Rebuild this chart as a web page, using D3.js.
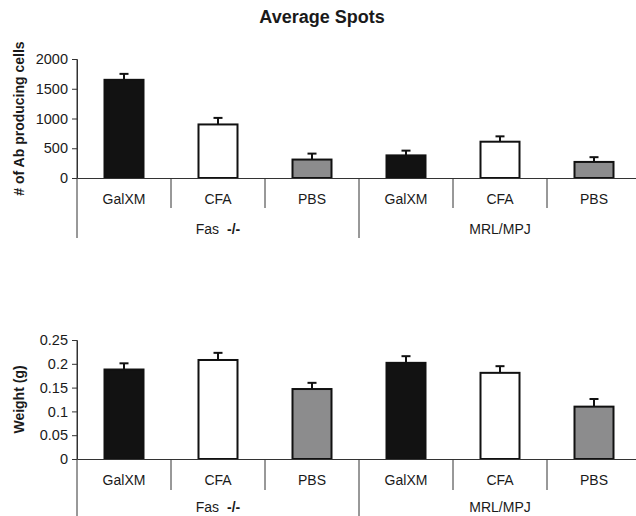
<!DOCTYPE html>
<html>
<head>
<meta charset="utf-8">
<script src="https://cdn.jsdelivr.net/npm/d3@7"></script>
<style>
  body { margin: 0; background: #fff; }
  svg { display: block; font-family: "Liberation Sans", Arial, sans-serif; }
</style>
</head>
<body>
<div id="wrapper"></div>
<script>
// data
const treatments = ["GalXM", "CFA", "PBS", "GalXM", "CFA", "PBS"]
const strains = ["Fas", "MRL/MPJ"]
const spots = [1650, 900, 310, 380, 610, 270]
const spotsErr = [100, 110, 100, 80, 90, 80]
const spotsTicks = [0, 500, 1000, 1500, 2000]
const weight = [0.188, 0.208, 0.147, 0.202, 0.181, 0.110]
const weightErr = [0.013, 0.015, 0.013, 0.014, 0.014, 0.016]
const weightTicks = [0, 0.05, 0.1, 0.15, 0.2, 0.25]

const fillFor = { GalXM: "#121212", CFA: "#ffffff", PBS: "#8c8c8d" }
const ink = "#1a1a1a"

const width = 636
const height = 516

const svg = d3.select("#wrapper")
  .append("svg")
    .attr("width", width)
    .attr("height", height)

svg.append("text")
    .attr("x", 322)
    .attr("y", 23)
    .attr("text-anchor", "middle")
    .attr("font-size", 18)
    .attr("font-weight", "bold")
    .attr("fill", ink)
    .text("Average Spots")

// one panel = bars + error caps + two-level category axis
function drawPanel(opts) {
  const left = 77
  const bandW = 94
  const top = opts.top
  const bottom = opts.bottom

  const idx = treatments.map((d, i) => i)
  const xScale = d3.scaleBand()
      .domain(idx)
      .range([left, left + bandW * idx.length])
      .paddingInner(0)

  const yScale = d3.scaleLinear()
      .domain(opts.domain)
      .range([bottom, top])

  const g = svg.append("g")

  // bars
  const barW = 39
  g.selectAll("rect.bar")
      .data(idx)
    .enter().append("rect")
      .attr("class", "bar")
      .attr("x", i => xScale(i) + (xScale.bandwidth() - barW) / 2)
      .attr("y", i => yScale(opts.values[i]))
      .attr("width", barW)
      .attr("height", i => yScale(0) - yScale(opts.values[i]))
      .attr("fill", i => fillFor[treatments[i]])
      .attr("stroke", "#111")
      .attr("stroke-width", 2)

  // upper error bars
  const err = g.selectAll("g.err")
      .data(idx)
    .enter().append("g")
      .attr("class", "err")
      .attr("stroke", "#111")
      .attr("stroke-width", 2)
  err.append("line")
      .attr("x1", i => xScale(i) + xScale.bandwidth() / 2)
      .attr("x2", i => xScale(i) + xScale.bandwidth() / 2)
      .attr("y1", i => yScale(opts.values[i]))
      .attr("y2", i => yScale(opts.values[i] + opts.errors[i]))
  err.append("line")
      .attr("x1", i => xScale(i) + xScale.bandwidth() / 2 - 4.5)
      .attr("x2", i => xScale(i) + xScale.bandwidth() / 2 + 4.5)
      .attr("y1", i => yScale(opts.values[i] + opts.errors[i]))
      .attr("y2", i => yScale(opts.values[i] + opts.errors[i]))

  // y axis
  const yAxis = g.append("g")
      .attr("transform", `translate(${left},0)`)
      .call(d3.axisLeft(yScale)
        .tickValues(opts.ticks)
        .tickSize(5)
        .tickSizeOuter(0)
        .tickPadding(4)
        .tickFormat(d => String(d)))
  yAxis.select(".domain").attr("stroke", "#333")
  yAxis.selectAll(".tick line").attr("stroke", "#333")
  yAxis.selectAll(".tick text")
      .attr("font-size", 14.5)
      .attr("font-family", "Liberation Sans, Arial, sans-serif")
      .attr("fill", ink)

  // x axis with treatment labels
  const xAxis = g.append("g")
      .attr("transform", `translate(0,${bottom})`)
      .call(d3.axisBottom(xScale)
        .tickSize(0)
        .tickPadding(opts.labelPad)
        .tickFormat(i => treatments[i]))
  xAxis.select(".domain").attr("stroke", "#333")
  xAxis.selectAll(".tick text")
      .attr("font-size", 14)
      .attr("font-family", "Liberation Sans, Arial, sans-serif")
      .attr("fill", ink)

  // separators between treatments
  g.selectAll("line.sep")
      .data(idx.filter(i => i % 3 !== 0))
    .enter().append("line")
      .attr("class", "sep")
      .attr("x1", i => xScale(i))
      .attr("x2", i => xScale(i))
      .attr("y1", bottom)
      .attr("y2", bottom + opts.sepLen)
      .attr("stroke", "#333")

  // long separators between strains (and the left axis running down)
  g.selectAll("line.grp")
      .data([0, 3])
    .enter().append("line")
      .attr("class", "grp")
      .attr("x1", i => xScale(i))
      .attr("x2", i => xScale(i))
      .attr("y1", i => i === 0 ? top : bottom)
      .attr("y2", bottom + opts.grpLen)
      .attr("stroke", "#333")

  // strain labels
  const grpText = g.selectAll("text.grp")
      .data(strains)
    .enter().append("text")
      .attr("class", "grp")
      .attr("x", (d, k) => (xScale(k * 3) + xScale(k * 3 + 2) + xScale.bandwidth()) / 2)
      .attr("y", bottom + opts.grpPad)
      .attr("text-anchor", "middle")
      .attr("font-size", 14)
      .attr("fill", ink)
  grpText.filter(d => d === "Fas")
      .call(t => {
        t.append("tspan").text("Fas")
        t.append("tspan").attr("dx", 8).attr("font-weight", "bold").text("-/-")
      })
  grpText.filter(d => d !== "Fas").text(d => d)

  // y label
  svg.append("text")
      .attr("transform", `translate(24,${(top + bottom) / 2}) rotate(-90)`)
      .attr("text-anchor", "middle")
      .attr("font-size", 14)
      .attr("font-weight", "bold")
      .attr("fill", ink)
      .text(opts.label)
}

drawPanel({
  top: 59, bottom: 178,
  domain: [0, 2000],
  ticks: spotsTicks,
  values: spots, errors: spotsErr,
  label: "# of Ab producing cells",
  labelPad: 16, sepLen: 30, grpLen: 60, grpPad: 56
})

drawPanel({
  top: 340, bottom: 459,
  domain: [0, 0.25],
  ticks: weightTicks,
  values: weight, errors: weightErr,
  label: "Weight (g)",
  labelPad: 16, sepLen: 31, grpLen: 60, grpPad: 53
})
</script>
</body>
</html>
